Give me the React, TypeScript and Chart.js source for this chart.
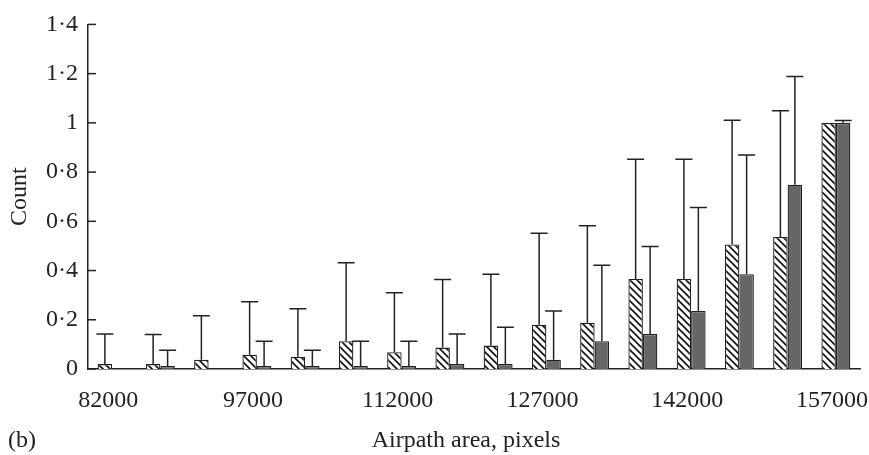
import React, { useEffect, useRef } from "react";
import { Chart, registerables } from "chart.js";

Chart.register(...registerables);

const categories = [
  "82000", "87000", "92000", "97000", "102000", "107000", "112000", "117000",
  "122000", "127000", "132000", "137000", "142000", "147000", "152000", "157000",
];
const tickLabels = ["82000", "97000", "112000", "127000", "142000", "157000"];

const hatchedValues = [0.02, 0.02, 0.038, 0.058, 0.05, 0.113, 0.068, 0.087, 0.095, 0.18, 0.188, 0.366, 0.366, 0.506, 0.536, 1.0];
const hatchedUpper = [0.142, 0.14, 0.216, 0.273, 0.245, 0.432, 0.31, 0.364, 0.385, 0.552, 0.582, 0.852, 0.852, 1.011, 1.049, 1.0];
const solidValues = [0, 0.012, 0, 0.012, 0.012, 0.012, 0.012, 0.02, 0.02, 0.038, 0.113, 0.142, 0.236, 0.385, 0.749, 1.0];
const solidUpper = [0, 0.076, 0, 0.113, 0.076, 0.113, 0.113, 0.142, 0.17, 0.236, 0.421, 0.498, 0.656, 0.869, 1.188, 1.01];

const yTickValues = [0, 0.2, 0.4, 0.6, 0.8, 1, 1.2, 1.4];

const FONT = "Liberation Serif";
const INK = "#222";

function makeHatch(): CanvasPattern | string {
  const c = document.createElement("canvas");
  const s = 7;
  c.width = s;
  c.height = s;
  const g = c.getContext("2d");
  if (!g) return "#fff";
  g.fillStyle = "#fff";
  g.fillRect(0, 0, s, s);
  g.strokeStyle = "#111";
  g.lineWidth = 1.6;
  g.beginPath();
  g.moveTo(-1, -1);
  g.lineTo(s + 1, s + 1);
  g.moveTo(-1, s - 1);
  g.lineTo(1, s + 1);
  g.moveTo(s - 1, -1);
  g.lineTo(s + 1, 1);
  g.stroke();
  const p = g.createPattern(c, "repeat");
  return p || "#fff";
}

const uppers = [hatchedUpper, solidUpper];
const values = [hatchedValues, solidValues];

const errorBarPlugin = {
  id: "errorBars",
  afterDatasetsDraw(chart: any) {
    const ctx = chart.ctx;
    const yScale = chart.scales.y;
    ctx.save();
    ctx.strokeStyle = INK;
    ctx.lineWidth = 1.5;
    for (let d = 0; d < 2; d++) {
      const meta = chart.getDatasetMeta(d);
      meta.data.forEach((el: any, i: number) => {
        const up = uppers[d][i];
        if (up <= values[d][i]) return;
        const yTop = yScale.getPixelForValue(up);
        const yBase = el.y;
        ctx.beginPath();
        ctx.moveTo(el.x, yBase);
        ctx.lineTo(el.x, yTop);
        ctx.moveTo(el.x - 8.5, yTop);
        ctx.lineTo(el.x + 8.5, yTop);
        ctx.stroke();
      });
    }
    ctx.restore();
  },
};

const decorPlugin = {
  id: "decor",
  afterDraw(chart: any) {
    const ctx = chart.ctx;
    const yScale = chart.scales.y;
    const area = chart.chartArea;
    ctx.save();
    ctx.strokeStyle = INK;
    ctx.lineWidth = 1.5;
    yTickValues.forEach((v) => {
      const y = yScale.getPixelForValue(v);
      ctx.beginPath();
      ctx.moveTo(area.left, y);
      ctx.lineTo(area.left + 8, y);
      ctx.stroke();
    });
    ctx.fillStyle = INK;
    ctx.font = `24px "${FONT}"`;
    ctx.textBaseline = "middle";
    ctx.textAlign = "left";
    ctx.fillText("(b)", 8, 441);
    ctx.textAlign = "center";
    ctx.fillText("Airpath area, pixels", 466, 441);
    ctx.translate(20, (area.top + area.bottom) / 2);
    ctx.rotate(-Math.PI / 2);
    ctx.fillText("Count", 0, 0);
    ctx.restore();
  },
};

function fmt(v: number): string {
  const r = Math.round(v * 10) / 10;
  if (r === 0) return "0";
  if (r === 1) return "1";
  return r.toFixed(1).replace(".", "\u00B7");
}

export default function App() {
  const ref = useRef<HTMLCanvasElement | null>(null);
  useEffect(() => {
    document.body.style.margin = "0";
    const canvas = ref.current;
    if (!canvas) return;
    const hatch = makeHatch();
    const chart = new Chart(canvas, {
      type: "bar",
      data: {
        labels: categories,
        datasets: [
          {
            data: hatchedValues,
            backgroundColor: hatch as any,
            borderColor: INK,
            borderWidth: 1.3,
            categoryPercentage: 0.6,
            barPercentage: 1.0,
          },
          {
            data: solidValues,
            backgroundColor: "#666666",
            borderColor: INK,
            borderWidth: 1.3,
            categoryPercentage: 0.6,
            barPercentage: 1.0,
          },
        ],
      },
      options: {
        animation: false,
        responsive: false,
        devicePixelRatio: 1,
        layout: { padding: { top: 23, right: 9, left: 0, bottom: 0 } },
        plugins: { legend: { display: false }, tooltip: { enabled: false } },
        scales: {
          x: {
            grid: { display: false },
            border: { display: true, color: INK, width: 1.5 },
            ticks: {
              autoSkip: false,
              maxRotation: 0,
              padding: 9,
              labelOffset: -4,
              color: INK,
              font: { family: FONT, size: 24 },
              callback: function (this: any, _v: any, i: number) {
                const lab = categories[i];
                return tickLabels.includes(lab) ? lab : "";
              },
            },
            afterFit: (scale: any) => {
              scale.height = 86;
              scale.paddingLeft = 0;
              scale.paddingRight = 0;
            },
          },
          y: {
            min: 0,
            max: 1.4,
            grid: { display: false, drawTicks: false },
            border: { display: true, color: INK, width: 1.5 },
            ticks: {
              stepSize: 0.2,
              padding: 10,
              color: INK,
              font: { family: FONT, size: 24 },
              callback: (v: any) => fmt(Number(v)),
            },
            afterFit: (scale: any) => {
              scale.width = 88;
            },
          },
        },
      },
      plugins: [errorBarPlugin, decorPlugin],
    });
    return () => chart.destroy();
  }, []);
  return (
    <div style={{ width: 869, height: 455, background: "#fff" }}>
      <canvas ref={ref} width={869} height={455} style={{ display: "block" }} />
    </div>
  );
}
